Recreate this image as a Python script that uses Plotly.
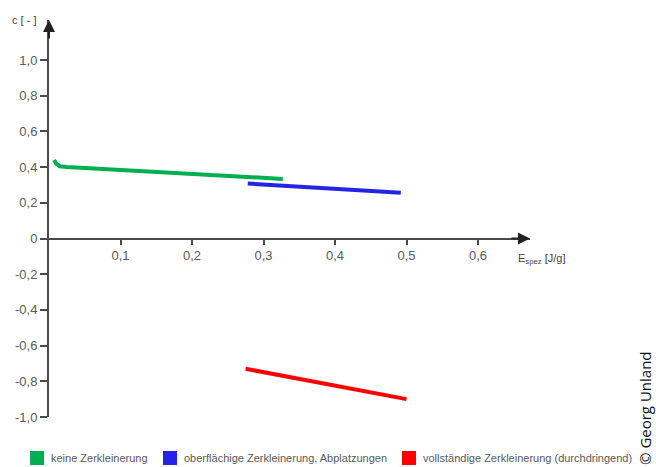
import plotly.graph_objects as go

# Data
green_x = [0.007, 0.010, 0.015, 0.025, 0.327]
green_y = [0.440, 0.420, 0.405, 0.400, 0.334]
blue_x = [0.278, 0.492]
blue_y = [0.308, 0.256]
red_x = [0.275, 0.500]
red_y = [-0.730, -0.900]

names = ["keine Zerkleinerung",
         "oberflächige Zerkleinerung, Abplatzungen",
         "vollständige Zerkleinerung (durchdringend)"]
colors = ["#00b050", "#2424e6", "#ff0000"]

x_ticks = [0.1, 0.2, 0.3, 0.4, 0.5, 0.6]
x_ticktext = ["0,1", "0,2", "0,3", "0,4", "0,5", "0,6"]
y_ticks = [1.0, 0.8, 0.6, 0.4, 0.2, 0, -0.2, -0.4, -0.6, -0.8, -1.0]
y_ticktext = ["1,0", "0,8", "0,6", "0,4", "0,2", "0", "-0,2", "-0,4", "-0,6", "-0,8", "-1,0"]

W, H = 656, 467
ML, MR, MT, MB = 49, 126, 20, 50
PW, PH = W - ML - MR, H - MT - MB
X_MAX = PW / 715.0
Y_MIN = -1.0
Y_MAX = Y_MIN + PH / 178.5
AXC = "#4a4a4a"
TXT = "#5a5a5a"
FONT = "Liberation Sans, Arial, sans-serif"


def px_x(p):
    return (p - ML) / PW


def px_y(p):
    return (H - MB - p) / PH


fig = go.Figure()
for xs, ys, c in zip([green_x, blue_x, red_x], [green_y, blue_y, red_y], colors):
    fig.add_trace(go.Scatter(x=xs, y=ys, mode="lines", line=dict(color=c, width=4),
                             showlegend=False, hoverinfo="skip"))

zero_pos = (0 - Y_MIN) / (Y_MAX - Y_MIN)

fig.update_layout(
    width=W, height=H,
    margin=dict(l=ML, r=MR, t=MT, b=MB),
    paper_bgcolor="white", plot_bgcolor="white",
    font=dict(family=FONT, color=TXT, size=13),
    showlegend=False,
    xaxis=dict(range=[0, X_MAX], anchor="free", position=zero_pos,
               showline=True, linecolor=AXC, linewidth=2,
               showgrid=False, zeroline=False,
               ticks="outside", ticklen=5, tickwidth=1.5, tickcolor=AXC,
               tickvals=x_ticks, ticktext=x_ticktext,
               tickfont=dict(size=13, color=TXT)),
    yaxis=dict(range=[Y_MIN, Y_MAX], showline=True, linecolor=AXC, linewidth=2,
               showgrid=False, zeroline=False,
               ticks="outside", ticklen=7, tickwidth=1.5, tickcolor=AXC,
               tickvals=y_ticks, ticktext=y_ticktext,
               tickfont=dict(size=13, color=TXT)),
)

# legend (custom, single row)
leg_sq_left = [30, 163, 402]
leg_y = 458
for n, c, sx in zip(names, colors, leg_sq_left):
    fig.add_shape(type="rect", xref="paper", yref="paper",
                  x0=px_x(sx), x1=px_x(sx + 14), y0=px_y(leg_y + 7), y1=px_y(leg_y - 7),
                  fillcolor=c, line=dict(width=0))
    fig.add_annotation(x=px_x(sx + 19), y=px_y(leg_y), xref="paper", yref="paper",
                       text=n, showarrow=False, xanchor="left", yanchor="middle",
                       font=dict(size=11, color=TXT))

# axis arrows
fig.add_annotation(x=X_MAX, y=0, xref="x", yref="y", ax=-20, ay=0, text="",
                   showarrow=True, arrowhead=2, arrowsize=1.2, arrowwidth=2, arrowcolor="#222")
fig.add_annotation(x=0, y=Y_MAX, xref="x", yref="y", ax=0, ay=20, text="",
                   showarrow=True, arrowhead=2, arrowsize=1.2, arrowwidth=2, arrowcolor="#222")

# axis titles
fig.add_annotation(x=px_x(38), y=px_y(20), xref="paper", yref="paper", text="c [ - ]",
                   showarrow=False, xanchor="right", yanchor="middle",
                   font=dict(size=11, color="#444"))
fig.add_annotation(x=px_x(516), y=px_y(259), xref="paper", yref="paper",
                   text="E<sub>spez</sub> [J/g]", showarrow=False,
                   xanchor="left", yanchor="middle", font=dict(size=11, color="#444"))

# copyright
fig.add_annotation(x=px_x(645), y=px_y(408), xref="paper", yref="paper",
                   text="© Georg Unland", showarrow=False, textangle=-90,
                   xanchor="center", yanchor="middle",
                   font=dict(size=15, color="#111", family="Open Sans, sans-serif"))

fig.write_html("out.html")
